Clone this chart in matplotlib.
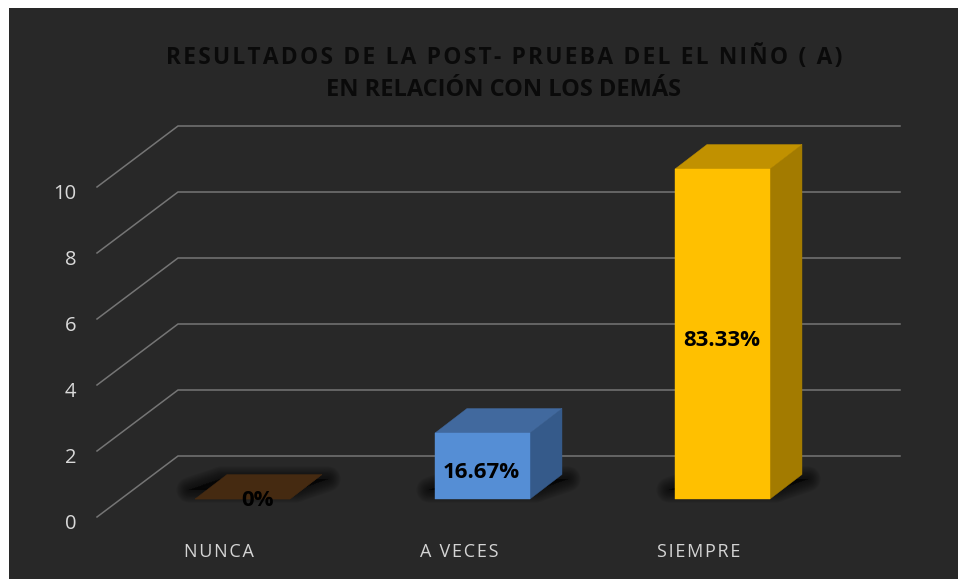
"""Post-test results chart drawn as a fake 3D column chart on a dark panel."""

import matplotlib
matplotlib.use("Agg")
import matplotlib.pyplot as plt
from matplotlib.patches import Polygon, Rectangle

categories = ["NUNCA", "A VECES", "SIEMPRE"]
values = [0, 2, 10]
labels = ["0%", "16.67%", "83.33%"]
ticks = [0, 2, 4, 6, 8, 10]
title_1 = "RESULTADOS DE LA POST- PRUEBA DEL EL NIÑO ( A)"
title_2 = "EN RELACIÓN CON LOS DEMÁS"

W, H = 958, 579
PX_X = 1 / 240  # one pixel in category units
PX_Y = 1 / 33  # one pixel in value units

FRONT = {"NUNCA": "#4a2c12", "A VECES": "#558ed5", "SIEMPRE": "#ffc000"}
TOP = {"NUNCA": "#452a11", "A VECES": "#41699e", "SIEMPRE": "#c19100"}
SIDE = {"NUNCA": "#452a11", "A VECES": "#355a8a", "SIEMPRE": "#a37b00"}

plt.rcParams["font.family"] = ["Open Sans", "DejaVu Sans"]

fig = plt.figure(figsize=(W / 100, H / 100), dpi=100, facecolor="white")
ax = fig.add_axes([0, 0, 1, 1])
ax.set_xlim(-242.5 * PX_X, (W - 242.5) * PX_X)
ax.set_ylim((499 - H) * PX_Y, 499 * PX_Y)
ax.axis("off")


def px(x, y):
    # figure pixel position to data position, for the chart furniture only
    return (x - 242.5) * PX_X, (499 - y) * PX_Y


ax.add_patch(Rectangle(px(9, 579), 949 * PX_X, 571 * PX_Y, facecolor="#282828",
                       edgecolor="none", zorder=0))

# walls: gridlines run along the back, then slant down to the front left
depth_x, depth_y = 81 * PX_X, 61 * PX_Y
x_back, x_right = px(178, 0)[0], px(900, 0)[0]
base_back = px(0, 456)[1]
for t in ticks:
    y = base_back + t
    ax.plot([x_back - depth_x, x_back, x_right], [y - depth_y, y, y],
            color="#757575", linewidth=1.1, zorder=1, solid_joinstyle="miter")
    ax.text(px(76, 0)[0], y - depth_y - 7 * PX_Y, str(t), color="#d9d9d9",
            fontsize=14.5, ha="right", va="center")

half = 47.5 * PX_X
bar_dx, bar_dy = 32 * PX_X, 24.5 * PX_Y
hair = "\u200a"
for i, (cat, val, lab) in enumerate(zip(categories, values, labels)):
    left, right = i - half, i + half

    # soft contact shadow behind the base
    sx, sy = 6 * PX_X, 9 * PX_Y
    shadow = [(left - sx, sy), (right + sx, sy), (right + bar_dx + sx, bar_dy - sy / 2),
              (left + bar_dx - sx, bar_dy - sy / 2)]
    for lw in [18, 16, 14, 12, 10, 8, 6, 4, 2]:
        ax.add_patch(Polygon(shadow, closed=True, facecolor="black", edgecolor="black",
                             linewidth=lw, alpha=0.08, joinstyle="round", zorder=2))

    ax.add_patch(Polygon([(right, 0), (right + bar_dx, bar_dy), (right + bar_dx, val + bar_dy),
                          (right, val)], closed=True, facecolor=SIDE[cat],
                         edgecolor=SIDE[cat], linewidth=0.3, zorder=3))
    ax.add_patch(Polygon([(left, val), (right, val), (right + bar_dx, val + bar_dy),
                          (left + bar_dx, val + bar_dy)], closed=True, facecolor=TOP[cat],
                         edgecolor=TOP[cat], linewidth=0.3, zorder=3))
    ax.bar(i, val, width=2 * half, color=FRONT[cat], edgecolor=FRONT[cat], linewidth=0.3, zorder=4)

    label_y = val / 2 - 6 * PX_Y if val else -1 * PX_Y
    ax.text(i + (15 * PX_X if val == 0 else -1 * PX_X), label_y, lab, color="black",
            fontsize=16, fontweight="bold", ha="center", va="center", zorder=5)
    ax.text(i + [-23.5, -23, -24][i] * PX_X, px(0, 552)[1], hair.join(cat), color="#d4d4d4",
            fontsize=13, ha="center", va="center", zorder=5)

ax.text(px(504, 0)[0], px(0, 58)[1], hair.join(title_1), color="#0a0a0a", fontsize=16.4,
        fontweight="bold", ha="center", va="center", zorder=5)
ax.text(px(503, 0)[0], px(0, 90)[1], title_2, color="#0a0a0a", fontsize=17,
        fontweight="bold", ha="center", va="center", zorder=5)

fig.savefig("out.png", dpi=100, facecolor="white")
plt.close(fig)
